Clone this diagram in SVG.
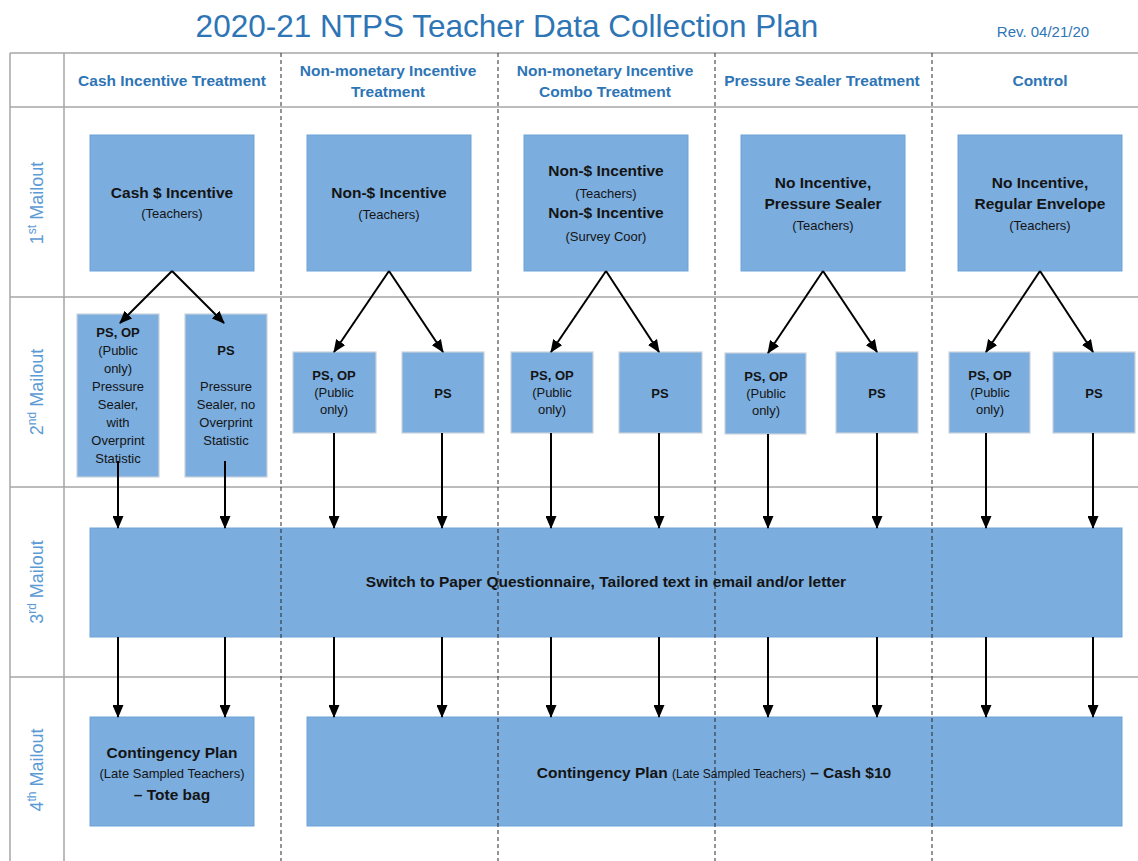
<svg xmlns="http://www.w3.org/2000/svg" width="1138" height="861" viewBox="0 0 1138 861">
<style>
.grid{stroke:#a6a6a6;stroke-width:1.5;fill:none}
.dash{stroke:#222;stroke-width:1.2;stroke-dasharray:4 3;stroke-opacity:0.8;fill:none}
.box{fill:#7badde;stroke:#6fa3d8;stroke-width:1}
.box2{fill:#7badde;stroke:#c9d3dc;stroke-width:1.2}
.hdr{font-family:"Liberation Sans",Arial,sans-serif;font-weight:bold;font-size:15.5px;fill:#2e75b6;text-anchor:middle}
.row{font-family:"Liberation Sans",Arial,sans-serif;font-size:18px;fill:#5b9bd5;text-anchor:middle}
.b{font-family:"Liberation Sans",Arial,sans-serif;font-weight:bold;font-size:15.5px;fill:#141414;text-anchor:middle}
.s{font-family:"Liberation Sans",Arial,sans-serif;font-size:13px;fill:#141414;text-anchor:middle}
.b2{font-family:"Liberation Sans",Arial,sans-serif;font-weight:bold;font-size:13px;fill:#141414;text-anchor:middle}
.s2{font-family:"Liberation Sans",Arial,sans-serif;font-size:13px;fill:#141414;text-anchor:middle}
.arr{stroke:#000;stroke-width:2;fill:none;marker-end:url(#ah)}
</style>
<defs>
<marker id="ah" markerWidth="13" markerHeight="11" refX="12" refY="5.5" orient="auto" markerUnits="userSpaceOnUse">
<path d="M0,0 L13,5.5 L0,11 z" fill="#000"/>
</marker>
</defs>
<rect x="0" y="0" width="1138" height="861" fill="#fff"/>
<g id="title">
<text x="507" y="37" font-family="'Liberation Sans',Arial,sans-serif" font-size="31.5" fill="#2e75b6" text-anchor="middle">2020-21 NTPS Teacher Data Collection Plan</text>
<text x="1043" y="37" font-family="'Liberation Sans',Arial,sans-serif" font-size="15" fill="#2e75b6" text-anchor="middle">Rev. 04/21/20</text>
</g>
<g id="grid">
<line class="grid" x1="10" y1="53" x2="1138" y2="53"/>
<line class="grid" x1="10" y1="107" x2="1138" y2="107"/>
<line class="grid" x1="10" y1="297" x2="1138" y2="297"/>
<line class="grid" x1="10" y1="487" x2="1138" y2="487"/>
<line class="grid" x1="10" y1="677" x2="1138" y2="677"/>
<line class="grid" x1="10" y1="53" x2="10" y2="861"/>
<line class="grid" x1="64" y1="53" x2="64" y2="861"/>
</g>
<g id="headers">
<text class="hdr" x="172" y="85.5">Cash Incentive Treatment</text>
<text class="hdr" x="388" y="75.5">Non-monetary Incentive</text>
<text class="hdr" x="388" y="96.5">Treatment</text>
<text class="hdr" x="605" y="75.5">Non-monetary Incentive</text>
<text class="hdr" x="605" y="96.5">Combo Treatment</text>
<text class="hdr" x="822" y="85.5">Pressure Sealer Treatment</text>
<text class="hdr" x="1040" y="85.5">Control</text>
</g>
<g id="row-labels">
<text class="row" transform="translate(43,203) rotate(-90)">1<tspan font-size="12" dy="-7">st</tspan><tspan dy="7"> Mailout</tspan></text>
<text class="row" transform="translate(43,392) rotate(-90)">2<tspan font-size="12" dy="-7">nd</tspan><tspan dy="7"> Mailout</tspan></text>
<text class="row" transform="translate(43,582) rotate(-90)">3<tspan font-size="12" dy="-7">rd</tspan><tspan dy="7"> Mailout</tspan></text>
<text class="row" transform="translate(43,770) rotate(-90)">4<tspan font-size="12" dy="-7">th</tspan><tspan dy="7"> Mailout</tspan></text>
</g>
<g id="n-cash1">
<rect class="box" x="90" y="135" width="164" height="136"/>
<text class="b" x="172" y="197.5">Cash $ Incentive</text>
<text class="s" x="172" y="217.5">(Teachers)</text>
</g>
<g id="n-nonmon1">
<rect class="box" x="307" y="135" width="164" height="136"/>
<text class="b" x="389" y="197.5">Non-$ Incentive</text>
<text class="s" x="389" y="218.5">(Teachers)</text>
</g>
<g id="n-combo1">
<rect class="box" x="524" y="135" width="164" height="136"/>
<text class="b" x="606" y="175.5">Non-$ Incentive</text>
<text class="s" x="606" y="197.5">(Teachers)</text>
<text class="b" x="606" y="217.5">Non-$ Incentive</text>
<text class="s" x="606" y="240.5">(Survey Coor)</text>
</g>
<g id="n-pressure1">
<rect class="box" x="741" y="135" width="164" height="136"/>
<text class="b" x="823" y="187.5">No Incentive,</text>
<text class="b" x="823" y="208.5">Pressure Sealer</text>
<text class="s" x="823" y="229.5">(Teachers)</text>
</g>
<g id="n-control1">
<rect class="box" x="958" y="135" width="164" height="136"/>
<text class="b" x="1040" y="187.5">No Incentive,</text>
<text class="b" x="1040" y="208.5">Regular Envelope</text>
<text class="s" x="1040" y="229.5">(Teachers)</text>
</g>
<g id="n-cash2a">
<rect class="box2" x="77" y="314" width="82" height="163"/>
<text class="b2" x="118" y="336.5">PS, OP</text>
<text class="s2" x="118" y="354.5">(Public</text>
<text class="s2" x="118" y="372.5">only)</text>
<text class="s2" x="118" y="390.5">Pressure</text>
<text class="s2" x="118" y="408.5">Sealer,</text>
<text class="s2" x="118" y="426.5">with</text>
<text class="s2" x="118" y="444.5">Overprint</text>
<text class="s2" x="118" y="462.5">Statistic</text>
</g>
<g id="n-cash2b">
<rect class="box2" x="185" y="314" width="82" height="163"/>
<text class="b2" x="226" y="354.5">PS</text>
<text class="s2" x="226" y="390.5">Pressure</text>
<text class="s2" x="226" y="408.5">Sealer, no</text>
<text class="s2" x="226" y="426.5">Overprint</text>
<text class="s2" x="226" y="444.5">Statistic</text>
</g>
<g id="n-nonmon2a">
<rect class="box2" x="293" y="352" width="83" height="81"/>
<text class="b2" x="334" y="379.5">PS, OP</text>
<text class="s2" x="334" y="396.5">(Public</text>
<text class="s2" x="334" y="413.5">only)</text>
</g>
<g id="n-nonmon2b">
<rect class="box2" x="402" y="352" width="82" height="81"/>
<text class="b2" x="443" y="397.5">PS</text>
</g>
<g id="n-combo2a">
<rect class="box2" x="511" y="352" width="82" height="81"/>
<text class="b2" x="552" y="379.5">PS, OP</text>
<text class="s2" x="552" y="396.5">(Public</text>
<text class="s2" x="552" y="413.5">only)</text>
</g>
<g id="n-combo2b">
<rect class="box2" x="619" y="352" width="83" height="81"/>
<text class="b2" x="660" y="397.5">PS</text>
</g>
<g id="n-pressure2a">
<rect class="box2" x="725" y="353" width="81" height="81"/>
<text class="b2" x="766" y="380.5">PS, OP</text>
<text class="s2" x="766" y="397.5">(Public</text>
<text class="s2" x="766" y="414.5">only)</text>
</g>
<g id="n-pressure2b">
<rect class="box2" x="836" y="352" width="82" height="81"/>
<text class="b2" x="877" y="397.5">PS</text>
</g>
<g id="n-control2a">
<rect class="box2" x="949" y="352" width="81" height="81"/>
<text class="b2" x="990" y="379.5">PS, OP</text>
<text class="s2" x="990" y="396.5">(Public</text>
<text class="s2" x="990" y="413.5">only)</text>
</g>
<g id="n-control2b">
<rect class="box2" x="1053" y="352" width="82" height="81"/>
<text class="b2" x="1094" y="397.5">PS</text>
</g>
<g id="n-third">
<rect class="box" x="90" y="528" width="1032" height="109"/>
<text class="b" x="606" y="587">Switch to Paper Questionnaire, Tailored text in email and/or letter</text>
</g>
<g id="n-cash4">
<rect class="box" x="90" y="717" width="164" height="109"/>
<text class="b" x="172" y="757.5">Contingency Plan</text>
<text class="s" x="172" y="777.5">(Late Sampled Teachers)</text>
<text class="b" x="172" y="799.5">– Tote bag</text>
</g>
<g id="n-contingency4">
<rect class="box" x="307" y="717" width="815" height="109"/>
<text class="b" x="714" y="777.5">Contingency Plan <tspan font-weight="normal" font-size="12">(Late Sampled Teachers)</tspan> – Cash $10</text>
</g>
<g id="dashed-dividers">
<line class="dash" x1="281" y1="53" x2="281" y2="861"/>
<line class="dash" x1="498" y1="53" x2="498" y2="861"/>
<line class="dash" x1="715" y1="53" x2="715" y2="861"/>
<line class="dash" x1="932" y1="53" x2="932" y2="861"/>
</g>
<g id="connectors">
<line class="arr" x1="172" y1="271" x2="120" y2="323"/>
<line class="arr" x1="172" y1="271" x2="224" y2="323"/>
<line class="arr" x1="389" y1="271" x2="334" y2="352"/>
<line class="arr" x1="389" y1="271" x2="443" y2="352"/>
<line class="arr" x1="606" y1="271" x2="551" y2="352"/>
<line class="arr" x1="606" y1="271" x2="659" y2="352"/>
<line class="arr" x1="823" y1="271" x2="768" y2="353"/>
<line class="arr" x1="823" y1="271" x2="877" y2="352"/>
<line class="arr" x1="1040" y1="271" x2="986" y2="352"/>
<line class="arr" x1="1040" y1="271" x2="1093" y2="352"/>
<line class="arr" x1="118" y1="461" x2="118" y2="528"/>
<line class="arr" x1="225" y1="461" x2="225" y2="528"/>
<line class="arr" x1="334" y1="433" x2="334" y2="528"/>
<line class="arr" x1="442" y1="433" x2="442" y2="528"/>
<line class="arr" x1="551" y1="433" x2="551" y2="528"/>
<line class="arr" x1="659" y1="433" x2="659" y2="528"/>
<line class="arr" x1="768" y1="434" x2="768" y2="528"/>
<line class="arr" x1="877" y1="433" x2="877" y2="528"/>
<line class="arr" x1="986" y1="433" x2="986" y2="528"/>
<line class="arr" x1="1093" y1="433" x2="1093" y2="528"/>
<line class="arr" x1="118" y1="637" x2="118" y2="717"/>
<line class="arr" x1="225" y1="637" x2="225" y2="717"/>
<line class="arr" x1="334" y1="637" x2="334" y2="717"/>
<line class="arr" x1="442" y1="637" x2="442" y2="717"/>
<line class="arr" x1="551" y1="637" x2="551" y2="717"/>
<line class="arr" x1="659" y1="637" x2="659" y2="717"/>
<line class="arr" x1="768" y1="637" x2="768" y2="717"/>
<line class="arr" x1="877" y1="637" x2="877" y2="717"/>
<line class="arr" x1="986" y1="637" x2="986" y2="717"/>
<line class="arr" x1="1093" y1="637" x2="1093" y2="717"/>
</g>
</svg>
